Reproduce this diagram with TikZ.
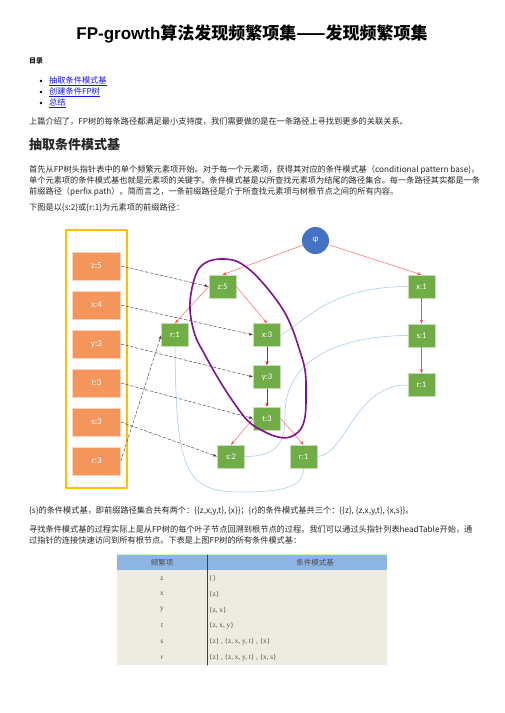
\documentclass[tikz,border=0pt]{standalone}
\usepackage{fontspec}
\setmainfont{Liberation Sans}
\newfontfamily\cjk{Noto Sans CJK SC}
\newfontfamily\boxfont{Carlito}
\newfontfamily\tabfont{Liberation Serif}
\usetikzlibrary{positioning,arrows.meta}

\definecolor{hdorange}{RGB}{244,150,92}
\definecolor{treegreen}{RGB}{112,173,71}
\definecolor{rootblue}{RGB}{68,114,196}
\definecolor{linkblue}{RGB}{157,195,230}
\definecolor{framegold}{RGB}{255,192,0}
\definecolor{loopviolet}{RGB}{128,16,140}
\definecolor{tabhead}{RGB}{141,180,226}
\definecolor{tabbody}{RGB}{238,236,225}
\definecolor{hyper}{RGB}{20,20,230}

\tikzset{
  bodytext/.style={anchor=west, inner sep=0pt, text=black!85,
    font=\cjk\fontsize{8.2}{11}\selectfont},
  headbox/.style={fill=hdorange, draw=hdorange!40!white, line width=0.6pt,
    minimum width=48pt, minimum height=28pt, inner sep=0pt, text=white,
    font=\boxfont\fontsize{9}{10}\selectfont},
  treebox/.style={fill=treegreen, draw=treegreen!40!white, line width=0.5pt,
    minimum width=27pt, minimum height=23pt, inner sep=0pt, text=white,
    font=\boxfont\fontsize{8.5}{10}\selectfont},
  headptr/.style={-{Latex[length=4pt,width=3pt]}, dash pattern=on 3pt off 2pt,
    black!70, line width=0.5pt},
  childarrow/.style={-{Stealth[length=4pt,width=3pt]}, red!70, line width=0.4pt},
  nodelink/.style={linkblue, line width=0.5pt},
  tabtext/.style={inner sep=0pt, text=black!70, font=\tabfont\fontsize{7.2}{8}\selectfont},
}

\begin{document}
\begin{tikzpicture}[x=1pt, y=-1pt, line join=round, line cap=round]
	\useasboundingbox (0,0) rectangle (504,713);
	% title, contents, intro
	\node (title) at (252,34) {\fontsize{17}{20}\selectfont\bfseries FP-growth{\cjk 算法发现频繁项集——发现频繁项集}};
	\node[bodytext, font=\cjk\fontsize{7}{8}\selectfont\bfseries] (toc) at (29,61) {目录};
	\foreach \entry [count=\i] in {抽取条件模式基, 创建条件FP树, 总结} {
		\fill (41, 70+11*\i) circle (1.3pt);
		\node[bodytext, text=hyper] (toc\i) at (49, 70+11*\i) {\underline{\entry}};
	}
	\node[bodytext] (intro) at (29,121) {上篇介绍了，FP树的每条路径都满足最小支持度，我们需要做的是在一条路径上寻找到更多的关联关系。};
	\node[bodytext, font=\cjk\fontsize{13}{15}\selectfont\bfseries] (sec) at (29,145) {抽取条件模式基};
	\node[bodytext, align=left] (para) at (29,181) {首先从FP树头指针表中的单个频繁元素项开始。对于每一个元素项，获得其对应的条件模式基（conditional pattern base)，\\
		单个元素项的条件模式基也就是元素项的关键字。条件模式基是以所查找元素项为结尾的路径集合。每一条路径其实都是一条\\
		前缀路径（perfix path）。简而言之，一条前缀路径是介于所查找元素项与树根节点之间的所有内容。};
	\node[bodytext] (cap) at (29,208) {下图是以\{s:2\}或\{r:1\}为元素项的前缀路径：};
	% header table
	\draw[framegold, line width=1.2pt] (66,230) rectangle (127,488);
	\foreach \lbl [count=\i] in {z:5,x:4,y:3,t:3,s:3,r:3}
		\node[headbox] (h\i) at (96.5, 227+39*\i) {\lbl};
	% fp tree
	\node[circle, fill=rootblue, minimum size=27pt, inner sep=0pt, text=white,
		font=\boxfont\fontsize{9}{10}\selectfont] (phi) at (315.5,240.5) {φ};
	\node[treebox] (z5) at (222.5,286.5) {z:5};
	\node[treebox] (x3) at (267,335) {x:3};
	\node[treebox, below=18.5pt of x3] (y3) {y:3};
	\node[treebox, below=18pt of y3] (t3) {t:3};
	\node[treebox] (s2) at (231,456.5) {s:2};
	\node[treebox, right=45pt of s2] (r1b) {r:1};
	\node[treebox, left=64.5pt of x3] (r1a) {r:1};
	\node[treebox] (x1) at (421.5,286.5) {x:1};
	\node[treebox, below=25.5pt of x1] (s1) {s:1};
	\node[treebox, below=26pt of s1] (r1c) {r:1};
	% node links
	\draw[nodelink] (x3.east) .. controls (310,318) and (330,287) .. (x1.west);
	\draw[nodelink] (s2.east) .. controls +(35,0) and +(0,25) .. (285,415)
		.. controls +(0,-70) and +(-40,0) .. (s1.west);
	\draw[nodelink] (r1b.east) .. controls (345,456) and (355,384) .. (r1c.west);
	\draw[nodelink] (r1a.south) .. controls (176,470) and (185,492) .. (240,492)
		.. controls (290,492) and (303,485) .. (r1b.south);
	% head pointers
	\foreach \a/\b in {h1/z5, h2/x3, h3/y3, h4/t3, h5/s2, h6/r1a}
		\draw[headptr] (\a.east) -- (\b.west);
	% tree edges
	\draw[childarrow] (phi) -- (z5.north);
	\draw[childarrow] (phi) -- (x1.north);
	\draw[childarrow] (z5.west) -- (r1a.north);
	\draw[childarrow] (z5.east) -- (x3.north);
	\draw[childarrow, red, line width=0.8pt] (x3) -- (y3);
	\draw[childarrow, red, line width=0.8pt] (y3) -- (t3);
	\draw[childarrow] (t3.west) -- (s2.north);
	\draw[childarrow] (t3.east) -- (r1b.north);
	\draw[childarrow] (x1) -- (s1);
	\draw[childarrow] (s1) -- (r1c);
	% hand drawn loop
	\draw[loopviolet, line width=1.6pt] plot[smooth cycle, tension=0.6] coordinates {
		(220,259) (236,261) (250,270) (262,282) (275,298) (285,313) (292,328)
		(298,345) (305,370) (306,395) (305,417) (300,430) (290,437) (278,437)
		(263,431) (248,421) (232,400) (218,378) (205,355) (195,335) (190,310)
		(192,288) (198,270) (207,262)};
	% text below
	\node[bodytext] (sres) at (29,511) {\{s\}的条件模式基，即前缀路径集合共有两个：\{\{z,x,y,t\}, \{x\}\}；\{r\}的条件模式基共三个：\{\{z\}, \{z,x,y,t\}, \{x,s\}\}。};
	\node[bodytext, align=left] (para2) at (29,534.5) {寻找条件模式基的过程实际上是从FP树的每个叶子节点回溯到根节点的过程。我们可以通过头指针列表headTable开始，通\\
		过指针的连接快速访问到所有根节点。下表是上图FP树的所有条件模式基：};
	% base table
	\fill[tabhead] (117,555) rectangle (387,570);
	\fill[tabbody] (117,570) rectangle (387,665);
	\draw[green!25!white, line width=0.8pt] (117,554.5) -- (387,554.5);
	\draw[black!75, line width=0.6pt] (207,555) -- (207,665);
	\node[tabtext, font=\cjk\fontsize{7.5}{8}\selectfont] (th1) at (162,562.5) {频繁项};
	\node[tabtext, font=\cjk\fontsize{7.5}{8}\selectfont] (th2) at (315,562.5) {条件模式基};
	\foreach \key/\base [count=\i] in {z/{\{\}}, x/{\{z\}}, y/{\{z, x\}}, t/{\{z, x, y\}},
		s/{\{z\} , \{z, x, y, t\} , \{x\}}, r/{\{z\} , \{z, x, y, t\} , \{x, s\}}} {
		\node[tabtext] (k\i) at (162, 562.7+15.8*\i) {\key};
		\node[tabtext, anchor=west] (b\i) at (209, 562.7+15.8*\i) {\base};
	}
\end{tikzpicture}
\end{document}
